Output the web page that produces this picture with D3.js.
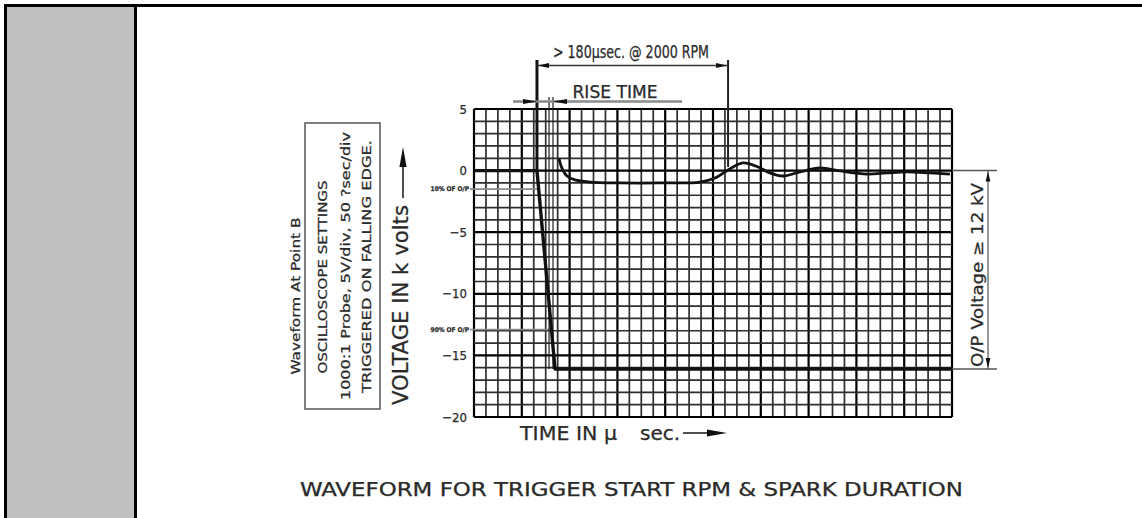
<!DOCTYPE html>
<html>
<head>
<meta charset="utf-8">
<script src="https://cdn.jsdelivr.net/npm/d3@7"></script>
<style>
  html, body { margin: 0; padding: 0; background: #fff; }
  svg { display: block; }
  text { font-family: "Liberation Sans Narrow", "DejaVu Sans Condensed", "Liberation Sans", sans-serif; fill: #2a2a2a; stroke: #2a2a2a; stroke-width: 0.25px; }
</style>
</head>
<body>
<div id="chart"></div>
<script>
// ---- values ----
const yTicks = [5, 0, -5, -10, -15, -20];      // kV labels on the left
const timeRange = [0, 400];                      // µs, 40 small divisions
const voltRange = [-20, 5];                      // kV

// trigger edge and output level (µs, kV)
const edgeTime = [0, 52.7, 67.8, 400];
const edgeVolt = [0, 0, -16.1, -16.1];

// ringing trace after the edge
const ringTime = [71.1, 73.6, 77.8, 84.5, 97.1, 122.2, 155.6, 189.1, 201.7, 212.6, 225.1,
                  237.7, 247.7, 258.6, 272.8, 289.5, 306.3, 328.9, 345.6, 362.3, 381.6, 398.3];
const ringVolt = [1.0, 0.2, -0.44, -0.76, -0.93, -1.0, -1.0, -0.93, -0.6, 0.05, 0.62,
                  0.29, -0.19, -0.44, -0.11, 0.21, -0.03, -0.28, -0.19, -0.11, -0.19, -0.28];

const pctLabels = ["10% OF O/P", "90% OF O/P"];
const pctVolts = [-1.5, -12.9];

const sparkSpan = [52.7, 212.6];   // "> 180µsec" dimension
const riseLines = [62.8, 66.1];     // rise time extension lines
const outputSpan = [0, -16.1];      // O/P voltage dimension

const W = 1142, H = 518;

const svg = d3.select("#chart").append("svg")
  .attr("width", W)
  .attr("height", H);

// frame with grey side panel
svg.append("rect").attr("x", 7).attr("y", 7).attr("width", 127).attr("height", H - 7).attr("fill", "#c0c0c0");
svg.append("line").attr("x1", 4).attr("x2", W).attr("y1", 5.5).attr("y2", 5.5).attr("stroke", "#000").attr("stroke-width", 3);
svg.append("line").attr("x1", 5.5).attr("x2", 5.5).attr("y1", 4).attr("y2", H).attr("stroke", "#000").attr("stroke-width", 3);
svg.append("line").attr("x1", 135.5).attr("x2", 135.5).attr("y1", 4).attr("y2", H).attr("stroke", "#000").attr("stroke-width", 3);

// scales
const x = d3.scaleLinear().domain(timeRange).range([474, 952]);
const y = d3.scaleLinear().domain(voltRange).range([417, 109]);

// grid
const grid = svg.append("g");
grid.selectAll("line.gx")
  .data(d3.range(timeRange[0], timeRange[1] + 1, 10))
  .join("line")
  .attr("class", "gx")
  .attr("x1", d => x(d)).attr("x2", d => x(d))
  .attr("y1", y(voltRange[1])).attr("y2", y(voltRange[0]))
  .attr("stroke", d => d % 40 === 0 ? "#000" : "#2e2e2e")
  .attr("stroke-width", d => d % 40 === 0 ? 2.2 : 1.7);
grid.selectAll("line.gy")
  .data(d3.range(voltRange[0], voltRange[1] + 1, 1))
  .join("line")
  .attr("class", "gy")
  .attr("x1", x(timeRange[0])).attr("x2", x(timeRange[1]))
  .attr("y1", d => y(d)).attr("y2", d => y(d))
  .attr("stroke", d => d % 5 === 0 ? "#000" : "#2e2e2e")
  .attr("stroke-width", d => d % 5 === 0 ? 2.2 : 1.7);

// y axis labels
const yAxis = svg.append("g")
  .attr("transform", `translate(${x(timeRange[0])},0)`)
  .call(d3.axisLeft(y).tickValues(yTicks).tickSize(0).tickPadding(7));
yAxis.select(".domain").remove();
yAxis.selectAll("text")
  .style("font-size", "13px")
  .style("font-family", "'Liberation Sans Narrow', 'DejaVu Sans Condensed', sans-serif")
  .attr("fill", "#333");

// helper for filled arrow heads
function arrowHead(g, tx, ty, dir, len, half) {
  let p;
  if (dir === "left") p = [[tx, ty], [tx + len, ty - half], [tx + len, ty + half]];
  if (dir === "right") p = [[tx, ty], [tx - len, ty - half], [tx - len, ty + half]];
  if (dir === "up") p = [[tx, ty], [tx - half, ty + len], [tx + half, ty + len]];
  if (dir === "down") p = [[tx, ty], [tx - half, ty - len], [tx + half, ty - len]];
  g.append("path").attr("d", "M" + p.join("L") + "Z").attr("fill", "#111");
}

const ann = svg.append("g");

// 10% / 90% markers
const edgeAt = v => edgeTime[1] + (edgeTime[2] - edgeTime[1]) * (v / edgeVolt[2]);
pctLabels.forEach((lab, i) => {
  ann.append("line")
    .attr("x1", x(timeRange[0]) - 4).attr("x2", x(edgeAt(pctVolts[i])))
    .attr("y1", y(pctVolts[i])).attr("y2", y(pctVolts[i]))
    .attr("stroke", "#8a8a8a").attr("stroke-width", 1.6);
  ann.append("text")
    .attr("x", x(timeRange[0]) - 5).attr("y", y(pctVolts[i]) + 2)
    .attr("text-anchor", "end")
    .style("font-size", "6.5px").style("font-weight", "bold")
    .text(lab);
});

// rise time extension lines
riseLines.forEach(t => {
  ann.append("line")
    .attr("x1", x(t)).attr("x2", x(t))
    .attr("y1", 97).attr("y2", y(edgeVolt[2]))
    .attr("stroke", "#222").attr("stroke-width", 1.2);
});

// spark duration extension lines
ann.append("line").attr("x1", x(sparkSpan[0])).attr("x2", x(sparkSpan[0]))
  .attr("y1", 60).attr("y2", y(0)).attr("stroke", "#111").attr("stroke-width", 3);
ann.append("line").attr("x1", x(sparkSpan[1])).attr("x2", x(sparkSpan[1]))
  .attr("y1", 60).attr("y2", y(0.3)).attr("stroke", "#222").attr("stroke-width", 2);

// traces
const line = d3.line().x(d => x(d[0])).y(d => y(d[1]));
svg.append("path")
  .datum(d3.zip(edgeTime, edgeVolt))
  .attr("d", line)
  .attr("fill", "none").attr("stroke", "#111").attr("stroke-width", 3.4)
  .attr("stroke-linejoin", "round");
svg.append("path")
  .datum(d3.zip(ringTime, ringVolt))
  .attr("d", line.curve(d3.curveCatmullRom.alpha(0.5)))
  .attr("fill", "none").attr("stroke", "#111").attr("stroke-width", 2.8);

// top dimension "> 180µsec. @ 2000 RPM"
ann.append("line").attr("x1", x(sparkSpan[0])).attr("x2", x(sparkSpan[1]))
  .attr("y1", 65.5).attr("y2", 65.5).attr("stroke", "#333").attr("stroke-width", 1.4);
arrowHead(ann, x(sparkSpan[0]) + 1, 65.5, "left", 11, 2.6);
arrowHead(ann, x(sparkSpan[1]) - 1, 65.5, "right", 11, 2.6);
ann.append("text").attr("x", 631).attr("y", 58).attr("text-anchor", "middle")
  .attr("textLength", 156).attr("lengthAdjust", "spacingAndGlyphs")
  .style("font-size", "17px").text("> 180µsec. @ 2000 RPM");

// rise time
ann.append("line").attr("x1", 513).attr("x2", 682)
  .attr("y1", 101.5).attr("y2", 101.5).attr("stroke", "#8a8a8a").attr("stroke-width", 2.4);
arrowHead(ann, x(sparkSpan[0]), 101.5, "right", 14, 2.6);
arrowHead(ann, x(riseLines[1]), 101.5, "left", 14, 2.6);
ann.append("text").attr("x", 615).attr("y", 98).attr("text-anchor", "middle")
  .attr("textLength", 85).attr("lengthAdjust", "spacingAndGlyphs")
  .style("font-size", "17px").text("RISE TIME");

// O/P voltage dimension
[outputSpan[0], outputSpan[1]].forEach(v => {
  ann.append("line").attr("x1", x(timeRange[1])).attr("x2", 997)
    .attr("y1", y(v)).attr("y2", y(v)).attr("stroke", "#555").attr("stroke-width", 1.5);
});
ann.append("line").attr("x1", 988).attr("x2", 988)
  .attr("y1", y(outputSpan[0])).attr("y2", y(outputSpan[1]))
  .attr("stroke", "#555").attr("stroke-width", 1.2);
arrowHead(ann, 988, y(outputSpan[0]) + 1, "up", 10, 2.4);
arrowHead(ann, 988, y(outputSpan[1]) - 1, "down", 10, 2.4);
ann.append("text").attr("transform", "translate(983,275) rotate(-90)")
  .attr("text-anchor", "middle").attr("textLength", 184).attr("lengthAdjust", "spacingAndGlyphs")
  .style("font-size", "15px").text("O/P Voltage ≥ 12 kV");

// axis titles
ann.append("text").attr("transform", "translate(408,405) rotate(-90)")
  .attr("textLength", 200).attr("lengthAdjust", "spacingAndGlyphs")
  .style("font-size", "21px").text("VOLTAGE IN k volts");
ann.append("line").attr("x1", 403).attr("x2", 403).attr("y1", 198).attr("y2", 164)
  .attr("stroke", "#222").attr("stroke-width", 1.6);
arrowHead(ann, 403, 147, "up", 20, 3.6);

ann.append("text").attr("x", 520).attr("y", 440)
  .attr("textLength", 97).attr("lengthAdjust", "spacingAndGlyphs")
  .style("font-size", "20px").text("TIME IN µ");
ann.append("text").attr("x", 640).attr("y", 440)
  .attr("textLength", 40).attr("lengthAdjust", "spacingAndGlyphs")
  .style("font-size", "20px").text("sec.");
ann.append("line").attr("x1", 683).attr("x2", 712).attr("y1", 433).attr("y2", 433)
  .attr("stroke", "#222").attr("stroke-width", 1.6);
arrowHead(ann, 727, 433, "right", 20, 3.6);

// oscilloscope settings box
ann.append("rect").attr("x", 305).attr("y", 123).attr("width", 75).attr("height", 286)
  .attr("fill", "none").attr("stroke", "#555").attr("stroke-width", 1.5);
const boxLines = [
  ["Waveform At Point B", 300, 296, 157],
  ["OSCILLOSCOPE SETTINGS", 327, 277, 193],
  ["1000:1 Probe, 5V/div, 50 ?sec/div", 350, 266, 268],
  ["TRIGGERED ON FALLING EDGE.", 371, 266.5, 253]
];
boxLines.forEach(b => {
  ann.append("text").attr("transform", `translate(${b[1]},${b[2]}) rotate(-90)`)
    .attr("text-anchor", "middle").attr("textLength", b[3]).attr("lengthAdjust", "spacingAndGlyphs")
    .style("font-size", "13px").text(b[0]);
});

// title
ann.append("text").attr("x", 300).attr("y", 496)
  .attr("textLength", 663).attr("lengthAdjust", "spacingAndGlyphs")
  .style("font-size", "19px").text("WAVEFORM FOR TRIGGER START RPM & SPARK DURATION");
</script>
</body>
</html>
